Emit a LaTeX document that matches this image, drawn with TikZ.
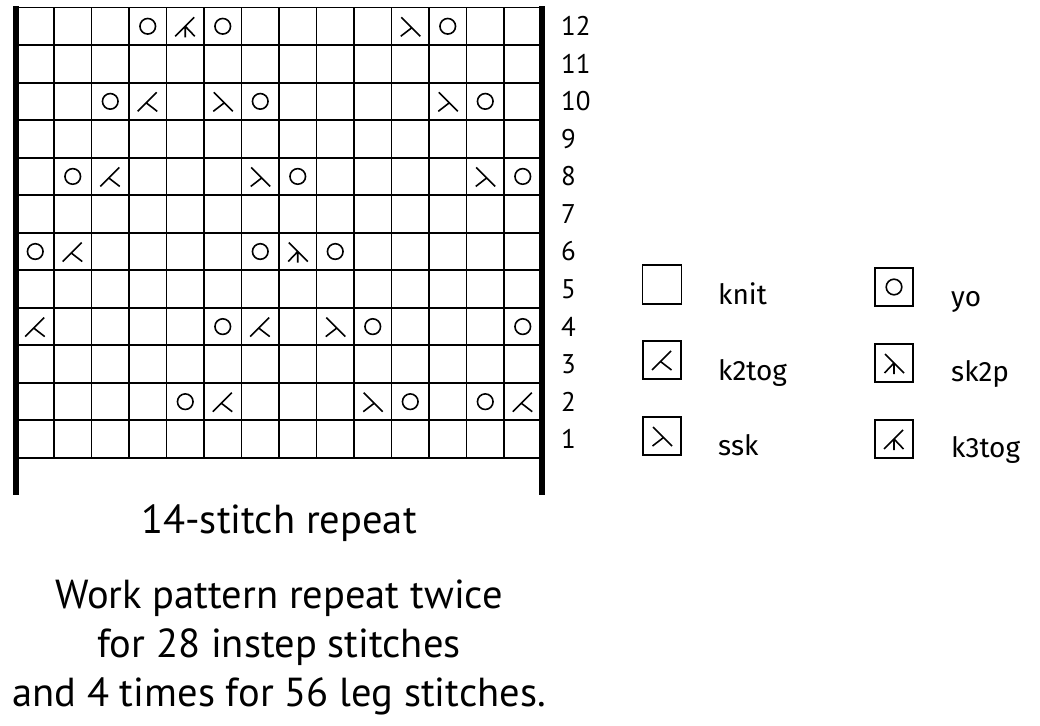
\documentclass[tikz,border=0pt]{standalone}
\usepackage{fontspec}
\setmainfont{PT Sans}
\newfontfamily\legfont{Fira Sans}
\begin{document}
\begin{tikzpicture}[x=1pt,y=-1pt,
  gridline/.style={line width=1.9pt},
  bar/.style={line width=5.5pt},
  sym/.style={line width=1.6pt},
  yo/.pic={\draw[sym] (0,0) circle[radius=7.8pt];},
  ktwo/.pic={\draw[sym] (-10,10)--(9,-9) (-1.5,1.5)--(9.5,10);},
  sskp/.pic={\draw[sym] (10,10)--(-9,-9) (1.5,1.5)--(-9.5,10);},
  kthree/.pic={\draw[sym] (-10,10)--(9,-9) (0,0)--(9.5,10) (0,0)--(0,11);},
  sktwop/.pic={\draw[sym] (10,10)--(-9,-9) (0,0)--(-9.5,10) (0,0)--(0,11);},
  rownum/.style={anchor=west, inner sep=0pt, font=\fontsize{27}{30}\selectfont},
  legbox/.style={draw, line width=1.5pt, minimum size=38pt, inner sep=0pt},
  legtxt/.style={anchor=base west, inner sep=0pt, font=\legfont\fontsize{28}{31}\selectfont},
  bigtxt/.style={anchor=base, inner sep=0pt, font=\fontsize{40.5}{44}\selectfont},
]
\useasboundingbox (0,0) rectangle (1040,725);
\fill[white] (0,0) rectangle (1040,725);
% grid
\foreach \i in {0,...,14} \draw[gridline] ({16.5+\i*37.5},7.5) -- ({16.5+\i*37.5},458);
\foreach \j in {0,...,12} \draw[gridline] (16.5,{7.5+\j*37.54}) -- (541.5,{7.5+\j*37.54});
\draw[bar] (16,6.5) -- (16,495);
\draw[bar] (542,6.5) -- (542,495);
% row numbers
\foreach \r in {1,...,12} \node[rownum] (r\r) at (561,{7.5+(12.5-\r)*37.54}) {\r};
% symbols
\foreach \c/\r in {4/12,6/12,12/12,3/10,7/10,13/10,2/8,8/8,14/8,1/6,7/6,9/6,6/4,10/4,14/4,5/2,11/2,13/2}
  \pic at ({16.5+(\c-0.5)*37.5},{7.5+(12.5-\r)*37.54}) {yo};
\foreach \c/\r in {4/10,3/8,2/6,1/4,7/4,6/2,14/2}
  \pic at ({16.5+(\c-0.5)*37.5},{7.5+(12.5-\r)*37.54}) {ktwo};
\foreach \c/\r in {11/12,6/10,12/10,7/8,13/8,9/4,10/2}
  \pic at ({16.5+(\c-0.5)*37.5},{7.5+(12.5-\r)*37.54}) {sskp};
\pic at ({16.5+(5-0.5)*37.5},{7.5+(12.5-12)*37.54}) {kthree};
\pic at ({16.5+(8-0.5)*37.5},{7.5+(12.5-6)*37.54}) {sktwop};
% legend
\node[legbox, minimum width=39pt, minimum height=39pt] (bknit) at (662,284.5) {};
\node[legbox] (bk2) at (662,360) {};
\node[legbox] (bssk) at (662,436) {};
\node[legbox] (byo) at (894,287) {};
\node[legbox] (bsk2p) at (894,363) {};
\node[legbox] (bk3) at (894,439) {};
\pic at (bk2.center) {ktwo};
\pic at (bssk.center) {sskp};
\pic at (byo.center) {yo};
\pic at (bsk2p.center) {sktwop};
\pic at (bk3.center) {kthree};
\node[legtxt] (tknit) at (718,304) {knit};
\node[legtxt] (tk2) at (718,380) {k2tog};
\node[legtxt] (tssk) at (718,455) {ssk};
\node[legtxt] (tyo) at (951,306) {yo};
\node[legtxt] (tsk2p) at (951,381) {sk2p};
\node[legtxt] (tk3) at (951,457) {k3tog};
% captions
\node[bigtxt] (cap1) at (279,533) {14-stitch repeat};
\node[bigtxt] (cap2) at (279,608) {Work pattern repeat twice};
\node[bigtxt] (cap3) at (279,657) {for 28 instep stitches};
\node[bigtxt] (cap4) at (279,706) {and 4 times for 56 leg stitches.};
\end{tikzpicture}
\end{document}
